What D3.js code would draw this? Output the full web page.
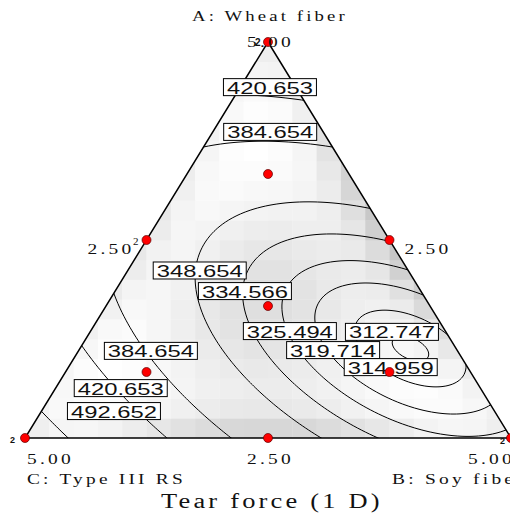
<!DOCTYPE html>
<html>
<head>
<meta charset="utf-8">
<script src="https://cdn.jsdelivr.net/npm/d3@7"></script>
<style>
  body { margin: 0; background: #fff; }
  svg { display: block; }
</style>
</head>
<body>
<script>
// Fitted Scheffé mixture model for tear force (1 D)
// A = wheat fiber, B = soy fiber, C = type III RS (fractions of the 5.00 total)
const termNames = ["A", "B", "C", "AB", "AC", "BC", "ABC"];
const coefficients = [476, 327.8, 530.5, -267, -543, -245, 25];

const contourLevels = [312.747, 314.959, 319.714, 325.494, 334.566, 348.654, 384.654, 420.653, 492.652];

// Design runs (blend fractions) and how many times each was run
const designA = [1, 0, 0, 0.5, 0.5, 0, 2 / 3, 1 / 6, 1 / 6, 1 / 3];
const designB = [0, 1, 0, 0.5, 0, 0.5, 1 / 6, 2 / 3, 1 / 6, 1 / 3];
const designC = [0, 0, 1, 0, 0.5, 0.5, 1 / 6, 1 / 6, 2 / 3, 1 / 3];
const replicates = [2, 2, 2, 1, 2, 1, 1, 1, 1, 1];

// Contour labels: value and the blend (A, B fractions) they sit on
const labelValues = [420.653, 384.654, 348.654, 334.566, 325.494, 319.714, 312.747, 314.959, 384.654, 420.653, 492.652];
const labelA = [0.886, 0.773, 0.423, 0.371, 0.270, 0.222, 0.268, 0.179, 0.220, 0.126, 0.068];
const labelB = [0.061, 0.118, 0.148, 0.267, 0.410, 0.523, 0.621, 0.663, 0.149, 0.134, 0.149];

// Component axis ticks
const tickText = ["5.00", "2.50", "2.50", "5.00", "2.50", "5.00"];
const tickA = [1, 0.5, 0.5, 0, 0, 0];
const tickB = [0, 0, 0.5, 0, 0.5, 1];

const componentNames = ["A: Wheat fiber", "B: Soy fiber", "C: Type III RS"];
const chartTitle = "Tear force (1 D)";

// ---------------------------------------------------------------
const W = 510, H = 516;
const svg = d3.select("body").append("svg").attr("width", W).attr("height", H);

// u = B + A/2 runs along the base, A runs up to the apex
const xScale = d3.scaleLinear().domain([0, 1]).range([25, 511]);
const yScale = d3.scaleLinear().domain([0, 1]).range([438, 42]);
const px = (a, b) => xScale(b + a / 2);
const py = a => yScale(a);

const terms = (a, b, c) => [a, b, c, a * b, a * c, b * c, a * b * c];
const model = (a, b, c) => d3.sum(terms(a, b, c), (v, i) => v * coefficients[i]);

const tri = [[px(1, 0), py(1)], [px(0, 1), py(0)], [px(0, 0), py(0)]];
const triPath = "M" + tri.map(p => p.join(",")).join("L") + "Z";

svg.append("defs").append("clipPath").attr("id", "tri")
  .append("path").attr("d", triPath);

// ---- prediction standard error shading from the design runs ----
const runs = [];
designA.forEach((a, i) => { for (let r = 0; r < replicates[i]; r++) runs.push(terms(a, designB[i], designC[i])); });
const p = coefficients.length;
const XtX = d3.range(p).map(i => d3.range(p).map(j => d3.sum(runs, row => row[i] * row[j])));
function invert(m) {
  const n = m.length, A = m.map((r, i) => r.concat(d3.range(n).map(j => (i === j ? 1 : 0))));
  for (let c = 0; c < n; c++) {
    let piv = c;
    for (let r = c + 1; r < n; r++) if (Math.abs(A[r][c]) > Math.abs(A[piv][c])) piv = r;
    [A[c], A[piv]] = [A[piv], A[c]];
    const d = A[c][c];
    for (let k = 0; k < 2 * n; k++) A[c][k] /= d;
    for (let r = 0; r < n; r++) if (r !== c) {
      const f = A[r][c];
      for (let k = 0; k < 2 * n; k++) A[r][k] -= f * A[c][k];
    }
  }
  return A.map(r => r.slice(n));
}
const Minv = invert(XtX);
const stdErr = (a, b, c) => {
  const x = terms(a, b, c);
  let s = 0;
  for (let i = 0; i < p; i++) for (let j = 0; j < p; j++) s += x[i] * Minv[i][j] * x[j];
  return Math.sqrt(s);
};

const nCells = 20;
const cells = [];
for (let j = 0; j < nCells; j++) {
  for (let i = 0; i < nCells; i++) {
    const u = (i + 0.5) / nCells, a0 = (j + 0.5) / nCells;
    let a = a0, b = u - a0 / 2, c = 1 - a - b;
    a = Math.max(a, 0); b = Math.max(b, 0); c = Math.max(c, 0);
    const s = a + b + c;
    cells.push({ i, j, se: stdErr(a / s, b / s, c / s) });
  }
}
const shade = d3.scalePow().exponent(1.8)
  .domain(d3.extent(cells, d => d.se))
  .range(["#ffffff", "#c6c6c6"]).clamp(true);

const uBand = d3.scaleLinear().domain([0, nCells]).range([xScale(0), xScale(1)]);
const aBand = d3.scaleLinear().domain([0, nCells]).range([yScale(0), yScale(1)]);

const plot = svg.append("g").attr("clip-path", "url(#tri)");
plot.selectAll("rect.cell").data(cells).join("rect")
  .attr("class", "cell")
  .attr("x", d => uBand(d.i))
  .attr("y", d => aBand(d.j + 1))
  .attr("width", uBand(1) - uBand(0) + 0.3)
  .attr("height", aBand(0) - aBand(1) + 0.3)
  .attr("fill", d => shade(d.se));

// ---- contour lines of the model surface ----
const step = 2, x0 = 20, y0 = 36;
const nx = Math.ceil((516 - x0) / step) + 1, ny = Math.ceil((444 - y0) / step) + 1;
const grid = new Array(nx * ny);
for (let j = 0; j < ny; j++) {
  for (let i = 0; i < nx; i++) {
    const a = yScale.invert(y0 + j * step);
    const b = xScale.invert(x0 + i * step) - a / 2;
    grid[j * nx + i] = model(a, b, 1 - a - b);
  }
}
const contours = d3.contours().size([nx, ny]).thresholds(contourLevels)(grid);
const geo = d3.geoPath(d3.geoIdentity().scale(step).translate([x0 - step / 2, y0 - step / 2]));
plot.selectAll("path.iso").data(contours).join("path")
  .attr("class", "iso")
  .attr("d", geo)
  .attr("fill", "none")
  .attr("stroke", "#000")
  .attr("stroke-width", 1);

// triangle outline
svg.append("path").attr("d", triPath)
  .attr("fill", "none").attr("stroke", "#000").attr("stroke-width", 1.5)
  .attr("stroke-linejoin", "miter");

// ---- contour labels ----
const lab = svg.append("g").selectAll("g").data(labelValues).join("g")
  .attr("transform", (v, i) => `translate(${px(labelA[i], labelB[i])},${py(labelA[i])})`);
lab.append("rect")
  .attr("x", -46.5).attr("y", -8.5).attr("width", 93).attr("height", 17)
  .attr("fill", "#fff").attr("stroke", "#000").attr("stroke-width", 1);
lab.append("text")
  .attr("x", -43).attr("y", 6.5)
  .attr("textLength", 86).attr("lengthAdjust", "spacingAndGlyphs")
  .attr("font-family", "Liberation Sans, Arial, sans-serif")
  .attr("font-size", 16.5)
  .attr("fill", "#111")
  .text(v => v.toFixed(3));

// ---- design points ----
svg.append("g").selectAll("circle").data(designA).join("circle")
  .attr("cx", (a, i) => px(a, designB[i]))
  .attr("cy", a => py(a))
  .attr("r", 4.5)
  .attr("fill", "#ff0000")
  .attr("stroke", "#5a0000")
  .attr("stroke-width", 0.7);

// ---- text: wide-set serif, stretched to its printed width ----
const serif = "Liberation Serif, Times New Roman, serif";
const txt = (x, y, s, size, len, spacing) => {
  const t = svg.append("text").attr("x", x).attr("y", y)
    .attr("font-family", serif).attr("font-size", size).attr("fill", "#111")
    .style("letter-spacing", (spacing || 0) + "px")
    .text(s);
  const natural = t.node().getComputedTextLength();
  t.attr("transform", `translate(${x},0) scale(${len / natural},1) translate(${-x},0)`);
  return t;
};

// tick label placement for each tick (apex, left edge, right edge, base)
const tickOffset = [[-21, 5], [-59, 14], [15, 14], [2, 26], [-21, 26], [-43, 26]];
tickText.forEach((s, i) => {
  const x = px(tickA[i], tickB[i]) + tickOffset[i][0];
  const y = py(tickA[i]) + tickOffset[i][1];
  txt(x, y, s, 15, 47, 2.5);
});

txt(192, 21, componentNames[0], 15, 156, 2.5);
txt(392, 484, componentNames[1], 15, 134, 2.5);
txt(27, 484, componentNames[2], 15, 159, 2.5);
txt(161, 508, chartTitle, 20.5, 222, 2.5);

// replicate counts next to the design points
const repl = [
  { x: 255, y: 46, size: 10, font: "Liberation Sans, Arial, sans-serif", w: "bold" },
  { x: 10, y: 443, size: 9, font: "Liberation Sans, Arial, sans-serif", w: "bold" },
  { x: 500, y: 444, size: 9, font: "Liberation Sans, Arial, sans-serif", w: "bold" },
  { x: 133, y: 245, size: 11, font: serif, w: "normal" }
];
const replIdx = [0, 2, 1, 4];
repl.forEach((r, k) => {
  svg.append("text").attr("x", r.x).attr("y", r.y)
    .attr("font-family", r.font).attr("font-size", r.size).attr("font-weight", r.w)
    .attr("fill", "#111")
    .text(replicates[replIdx[k]]);
});
</script>
</body>
</html>
